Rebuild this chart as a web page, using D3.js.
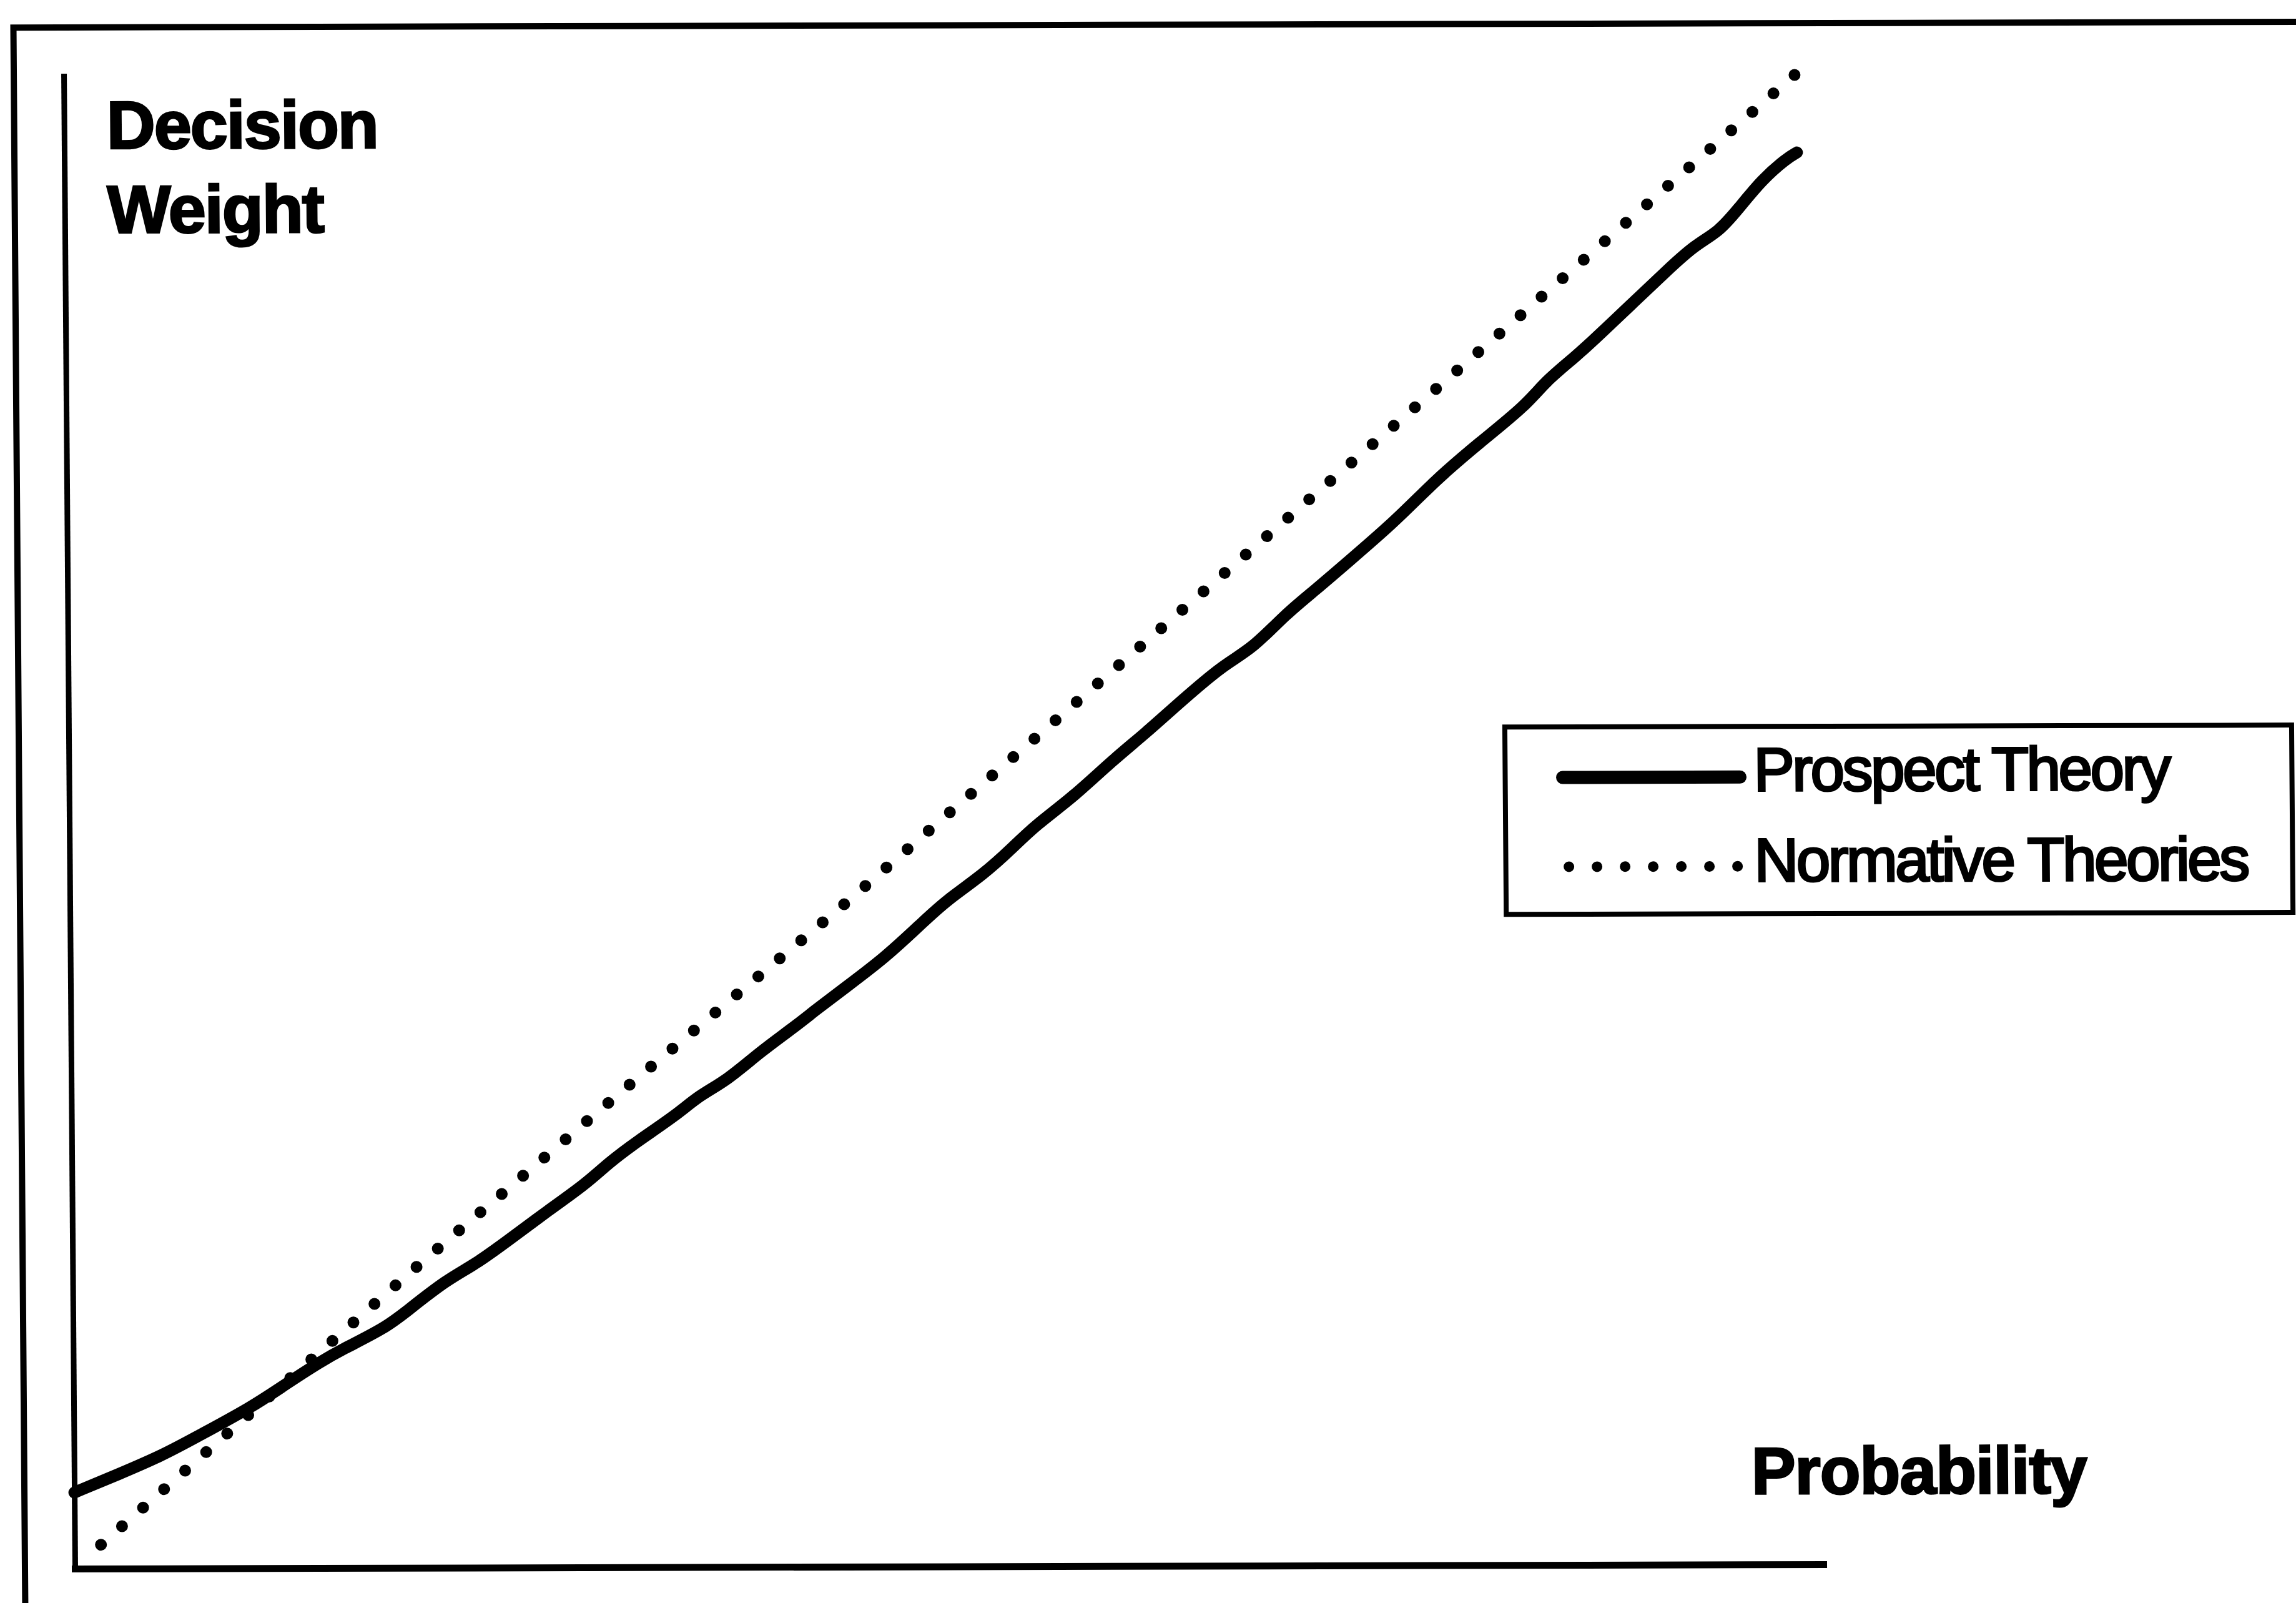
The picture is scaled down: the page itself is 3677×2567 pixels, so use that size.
<!DOCTYPE html>
<html>
<head>
<meta charset="utf-8">
<script src="https://cdn.jsdelivr.net/npm/d3@7"></script>
<style>
    body { margin: 0; background: #fff; }
    svg { display: block; }
</style>
</head>
<body>
<svg class="chart" width="3677" height="2567"></svg>
<script>
var seriesNames = ['Prospect Theory', 'Normative Theories'];
var yTitleLines = ['Decision', 'Weight'];
var xTitle = 'Probability';

// Prospect theory curve (probability, decision weight)
var prospectP = [0, .025, .051, .070, .102, .121, .141, .153, .179, .192,
    .214, .230, .249, .272, .294, .307, .323, .346, .359, .375,
    .394, .413, .426, .443, .466, .488, .501, .523, .539, .552,
    .575, .597, .616, .636, .661, .677, .697, .713, .732, .758,
    .777, .788, .807, .835, .846, .864, .877, .897, .916, .932,
    .946, .957, .971, .985, .991];
var prospectW = [.051, .063, .076, .088, .108, .123, .138, .146, .161, .173,
    .193, .203, .219, .239, .257, .271, .285, .303, .316, .326,
    .345, .361, .373, .388, .408, .432, .446, .464, .481, .496,
    .516, .540, .558, .579, .604, .614, .638, .653, .672, .698,
    .720, .732, .751, .777, .793, .810, .824, .846, .867, .884,
    .893, .908, .928, .942, .946];

// Normative theories line
var normativeP = [.015, .198, .322, .445, .631, .817, .990];
var normativeW = [.016, .203, .326, .446, .634, .822, .998];

var origin = [120, 2512];
var plotWidth = 2800;
var plotHeight = 2390;

var xScale = d3.scaleLinear().domain([0, 1]).range([origin[0], origin[0] + plotWidth]);
var yScale = d3.scaleLinear().domain([0, 1]).range([origin[1], origin[1] - plotHeight]);

var lineGenerator = d3.line()
    .x(function(d) {
        return xScale(d.p);
    })
    .y(function(d) {
        return yScale(d.w);
    });

function zipSeries(ps, ws) {
    return ps.map(function(p, i) {
        return { p: p, w: ws[i] };
    });
}

var svg = d3.select('.chart');

// the scanned page is slightly sheared, so everything sits in a skewed group
var page = svg.append('g')
    .attr('transform', 'translate(' + origin[0] + ',' + origin[1] + ') matrix(1,-0.0025,0.0075,1,0,0) translate(' + (-origin[0]) + ',' + (-origin[1]) + ')');

/* Outer frame */
page.append('path')
    .attr('d', 'M40,2700V44H3800')
    .style('fill', 'none')
    .style('stroke', '#000')
    .style('stroke-width', 10);

/* Axes */
var xAxis = page.append('g')
    .attr('transform', 'translate(0,' + origin[1] + ')')
    .call(d3.axisBottom(xScale).ticks(0).tickSizeOuter(0));
xAxis.select('.domain')
    .style('stroke', '#000')
    .style('stroke-width', 11)
    .style('stroke-linecap', 'square');

var yAxis = page.append('g')
    .attr('transform', 'translate(' + origin[0] + ',0)')
    .call(d3.axisLeft(yScale).ticks(0).tickSizeOuter(0));
yAxis.select('.domain')
    .style('stroke', '#000')
    .style('stroke-width', 9)
    .style('stroke-linecap', 'square');

/* Lines */
page.append('path')
    .datum(zipSeries(normativeP, normativeW))
    .attr('d', lineGenerator)
    .style('fill', 'none')
    .style('stroke', '#000')
    .style('stroke-width', 19)
    .style('stroke-linecap', 'round')
    .style('stroke-dasharray', '0 45');

page.append('path')
    .datum(zipSeries(prospectP, prospectW))
    .attr('d', lineGenerator.curve(d3.curveBasis))
    .style('fill', 'none')
    .style('stroke', '#000')
    .style('stroke-width', 19)
    .style('stroke-linejoin', 'round')
    .style('stroke-linecap', 'round');

/* Axis titles */
page.append('g')
    .selectAll('text')
    .data(yTitleLines)
    .join('text')
    .attr('x', 188)
    .attr('y', function(d, i) {
        return 238 + i * 135;
    })
    .style('font-family', '"Liberation Sans", Arial, Helvetica, sans-serif')
    .style('font-weight', 'bold')
    .style('font-size', '108px')
    .style('letter-spacing', '-2px')
    .style('stroke', '#000')
    .style('stroke-width', 3)
    .text(function(d) {
        return d;
    });

page.append('text')
    .attr('x', 2806)
    .attr('y', 2399)
    .style('font-family', '"Liberation Sans", Arial, Helvetica, sans-serif')
    .style('font-weight', 'bold')
    .style('font-size', '106px')
    .style('letter-spacing', '-1px')
    .style('stroke', '#000')
    .style('stroke-width', 3)
    .text(xTitle);

/* Legend */
var legend = page.append('g').attr('class', 'legend');

legend.append('rect')
    .attr('x', 2420)
    .attr('y', 1170)
    .attr('width', 1260)
    .attr('height', 300)
    .style('fill', '#fff')
    .style('stroke', '#000')
    .style('stroke-width', 8);

var legendRows = legend.selectAll('g.row')
    .data(seriesNames)
    .join('g')
    .attr('class', 'row')
    .attr('transform', function(d, i) {
        return 'translate(0,' + (i * 143) + ')';
    });

legendRows.append('line')
    .attr('x1', function(d, i) {
        return i === 0 ? 2512 : 2521;
    })
    .attr('x2', function(d, i) {
        return i === 0 ? 2796 : 2792;
    })
    .attr('y1', 1251)
    .attr('y2', 1251)
    .style('stroke', '#000')
    .style('stroke-width', function(d, i) {
        return i === 0 ? 21 : 17;
    })
    .style('stroke-linecap', 'round')
    .style('stroke-dasharray', function(d, i) {
        return i === 0 ? null : '0 45';
    });

legendRows.append('text')
    .attr('x', 2818)
    .attr('y', function(d, i) {
        return i === 0 ? 1273 : 1275;
    })
    .style('font-family', '"Liberation Sans", Arial, Helvetica, sans-serif')
    .style('font-size', '98px')
    .style('letter-spacing', '-3.5px')
    .style('stroke', '#000')
    .style('stroke-width', 3.5)
    .text(function(d) {
        return d;
    });
</script>
</body>
</html>
